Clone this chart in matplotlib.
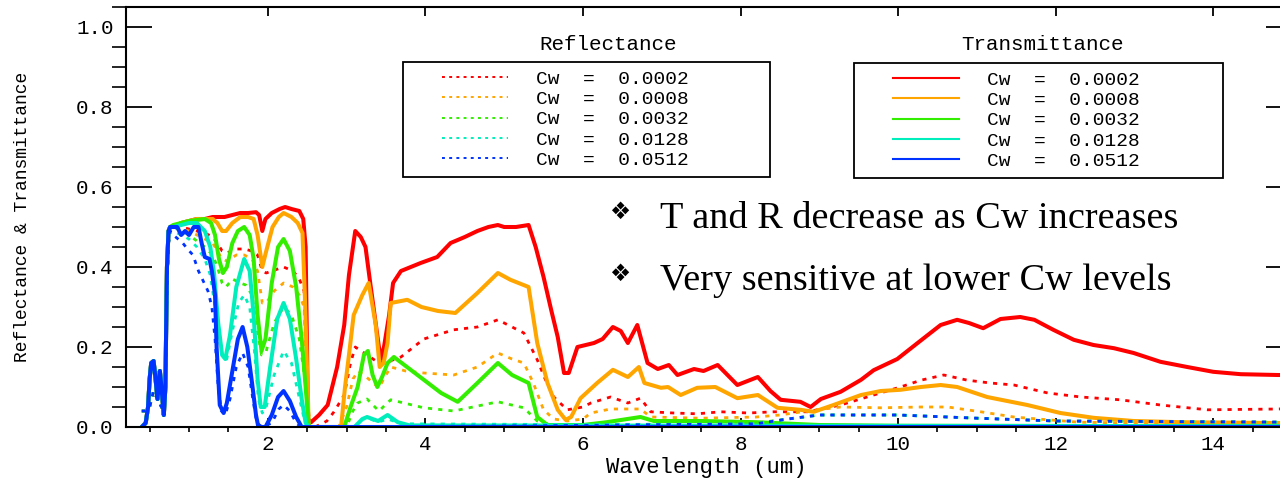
import numpy as np
import matplotlib
matplotlib.use("Agg")
import matplotlib.pyplot as plt
from matplotlib.lines import Line2D
from matplotlib.legend_handler import HandlerLine2D

plt.rcParams['font.family'] = ['Liberation Mono', 'DejaVu Sans']

cw_labels = ["Cw  =  0.0002", "Cw  =  0.0008", "Cw  =  0.0032", "Cw  =  0.0128", "Cw  =  0.0512"]
colors = ["#ff0000", "#ffa500", "#33ee00", "#00eebb", "#0033ff"]

# (wavelength um, value) pairs
# visible part is the same for every Cw
vis_t = [[0.40, 0.0], [0.45, 0.01], [0.48, 0.05], [0.50, 0.12], [0.52, 0.16], [0.55, 0.165],
         [0.57, 0.13], [0.60, 0.07], [0.63, 0.14], [0.65, 0.10], [0.68, 0.03], [0.70, 0.10],
         [0.72, 0.40], [0.74, 0.49], [0.76, 0.50]]
vis_r = [[0.40, 0.04], [0.45, 0.04], [0.50, 0.05], [0.55, 0.09], [0.60, 0.07], [0.65, 0.05],
         [0.68, 0.04], [0.70, 0.10], [0.72, 0.35], [0.74, 0.46], [0.76, 0.49]]

# transmittance
t_0002 = [[0.80, 0.50], [0.90, 0.51], [1.00, 0.515], [1.10, 0.52], [1.20, 0.52], [1.30, 0.525],
          [1.40, 0.525], [1.45, 0.525], [1.55, 0.53], [1.65, 0.535], [1.75, 0.535], [1.85, 0.537],
          [1.89, 0.53], [1.93, 0.49], [1.97, 0.52], [2.05, 0.535], [2.15, 0.545], [2.22, 0.55],
          [2.30, 0.545], [2.40, 0.54], [2.45, 0.52], [2.48, 0.45], [2.51, 0.02],
          [2.55, 0.012], [2.65, 0.03], [2.76, 0.055], [2.88, 0.15], [2.97, 0.255], [3.03, 0.38],
          [3.11, 0.49], [3.18, 0.475], [3.24, 0.45], [3.30, 0.36], [3.41, 0.20], [3.45, 0.17],
          [3.54, 0.28], [3.59, 0.36], [3.69, 0.39], [3.94, 0.41], [4.15, 0.425], [4.32, 0.46],
          [4.50, 0.475], [4.66, 0.49], [4.80, 0.50], [4.92, 0.505], [5.00, 0.50], [5.15, 0.50],
          [5.31, 0.505], [5.40, 0.45], [5.50, 0.375], [5.60, 0.29], [5.68, 0.225], [5.76, 0.135],
          [5.82, 0.135], [5.93, 0.20], [6.14, 0.21], [6.25, 0.22], [6.38, 0.25], [6.48, 0.24],
          [6.57, 0.21], [6.69, 0.255], [6.82, 0.16], [6.95, 0.145], [7.09, 0.155], [7.20, 0.13],
          [7.41, 0.145], [7.53, 0.14], [7.71, 0.155], [7.96, 0.105], [8.22, 0.125], [8.38, 0.09],
          [8.51, 0.068], [8.76, 0.063], [8.89, 0.05], [9.02, 0.07], [9.27, 0.088], [9.53, 0.118],
          [9.69, 0.142], [9.99, 0.17], [10.28, 0.215], [10.54, 0.255], [10.75, 0.268], [10.90, 0.26],
          [11.08, 0.247], [11.30, 0.27], [11.55, 0.275], [11.73, 0.268], [11.97, 0.243], [12.23, 0.218],
          [12.48, 0.205], [12.74, 0.197], [12.99, 0.185], [13.33, 0.163], [13.67, 0.15], [14.00, 0.138],
          [14.35, 0.132], [14.82, 0.13], [15.0, 0.13]]
t_0008 = [[0.80, 0.50], [0.90, 0.51], [1.00, 0.515], [1.10, 0.52], [1.20, 0.52], [1.30, 0.52],
          [1.36, 0.51], [1.42, 0.49], [1.47, 0.49], [1.55, 0.51], [1.65, 0.525], [1.75, 0.525],
          [1.82, 0.52], [1.87, 0.48], [1.93, 0.40], [1.98, 0.44], [2.06, 0.50], [2.14, 0.525],
          [2.20, 0.535], [2.30, 0.525], [2.38, 0.51], [2.44, 0.485], [2.47, 0.33], [2.52, 0.0],
          [2.93, 0.0], [2.98, 0.10], [3.03, 0.18], [3.09, 0.28], [3.20, 0.33], [3.28, 0.36],
          [3.37, 0.255], [3.42, 0.15], [3.47, 0.16], [3.52, 0.21], [3.56, 0.31], [3.77, 0.318],
          [3.95, 0.30], [4.16, 0.29], [4.38, 0.285], [4.66, 0.335], [4.92, 0.385], [5.08, 0.368],
          [5.31, 0.35], [5.42, 0.21], [5.55, 0.11], [5.68, 0.043], [5.78, 0.018], [5.85, 0.025],
          [5.97, 0.072], [6.18, 0.11], [6.38, 0.143], [6.57, 0.125], [6.71, 0.15], [6.78, 0.11],
          [6.99, 0.098], [7.08, 0.10], [7.24, 0.08], [7.45, 0.098], [7.68, 0.10], [7.96, 0.072],
          [8.22, 0.08], [8.47, 0.048], [8.76, 0.043], [8.93, 0.038], [9.18, 0.055], [9.53, 0.08],
          [9.78, 0.09], [10.03, 0.093], [10.29, 0.10], [10.54, 0.105], [10.75, 0.10], [11.13, 0.075],
          [11.64, 0.055], [12.06, 0.035], [12.48, 0.023], [12.99, 0.015], [13.60, 0.012],
          [14.82, 0.01], [15.0, 0.01]]
t_0032 = [[0.80, 0.505], [1.00, 0.515], [1.20, 0.52], [1.28, 0.51], [1.33, 0.48], [1.38, 0.42],
          [1.43, 0.385], [1.48, 0.40], [1.55, 0.46], [1.62, 0.49], [1.70, 0.50], [1.77, 0.48],
          [1.82, 0.42], [1.87, 0.28], [1.92, 0.19], [1.97, 0.22], [2.05, 0.36], [2.13, 0.45],
          [2.20, 0.47], [2.28, 0.44], [2.36, 0.35], [2.43, 0.22], [2.48, 0.10], [2.52, 0.0],
          [2.97, 0.0], [3.05, 0.05], [3.14, 0.10], [3.22, 0.18], [3.27, 0.19], [3.33, 0.13],
          [3.39, 0.10], [3.45, 0.125], [3.52, 0.16], [3.60, 0.175], [3.80, 0.145], [3.98, 0.118],
          [4.20, 0.085], [4.41, 0.063], [4.66, 0.11], [4.92, 0.16], [5.10, 0.13], [5.31, 0.11],
          [5.42, 0.025], [5.55, 0.005], [6.00, 0.005], [6.30, 0.012], [6.73, 0.025], [6.90, 0.015],
          [7.50, 0.015], [8.20, 0.012], [9.00, 0.005], [10.0, 0.003], [15.0, 0.002]]
t_0128 = [[0.80, 0.50], [1.00, 0.51], [1.10, 0.51], [1.20, 0.49], [1.27, 0.45], [1.32, 0.38],
          [1.37, 0.26], [1.42, 0.18], [1.46, 0.17], [1.52, 0.23], [1.60, 0.35], [1.70, 0.42],
          [1.77, 0.39], [1.82, 0.28], [1.87, 0.12], [1.91, 0.05], [1.96, 0.05], [2.03, 0.15],
          [2.12, 0.27], [2.20, 0.31], [2.28, 0.27], [2.36, 0.17], [2.43, 0.07], [2.48, 0.01],
          [2.52, 0.0], [3.10, 0.0], [3.20, 0.02], [3.26, 0.025], [3.40, 0.015], [3.52, 0.03],
          [3.65, 0.012], [3.80, 0.004], [15.0, 0.002]]
t_0512 = [[0.80, 0.50], [0.85, 0.50], [0.90, 0.48], [0.95, 0.49], [1.00, 0.48], [1.06, 0.50],
          [1.12, 0.50], [1.16, 0.46], [1.20, 0.425], [1.26, 0.42], [1.29, 0.39], [1.33, 0.33],
          [1.35, 0.20], [1.39, 0.055], [1.44, 0.035], [1.48, 0.06], [1.55, 0.14], [1.62, 0.22],
          [1.68, 0.25], [1.74, 0.20], [1.80, 0.11], [1.85, 0.03], [1.88, 0.0], [1.97, 0.0],
          [2.05, 0.03], [2.13, 0.075], [2.20, 0.09], [2.28, 0.065], [2.36, 0.025], [2.43, 0.0],
          [15.0, 0.0]]

# reflectance
r_0002 = [[0.80, 0.50], [0.90, 0.50], [1.00, 0.495], [1.10, 0.49], [1.20, 0.485], [1.30, 0.475],
          [1.36, 0.46], [1.42, 0.44], [1.48, 0.435], [1.60, 0.445], [1.70, 0.445], [1.80, 0.44],
          [1.87, 0.43], [1.93, 0.39], [1.98, 0.385], [2.05, 0.39], [2.20, 0.40], [2.32, 0.39],
          [2.40, 0.37], [2.46, 0.34], [2.50, 0.10], [2.53, 0.0], [2.60, 0.0], [2.75, 0.015],
          [2.84, 0.038], [2.97, 0.08], [3.05, 0.16], [3.11, 0.20], [3.26, 0.18], [3.41, 0.16],
          [3.55, 0.165], [3.69, 0.175], [3.98, 0.22], [4.36, 0.243], [4.66, 0.25], [4.92, 0.268],
          [5.10, 0.25], [5.25, 0.235], [5.42, 0.168], [5.52, 0.12], [5.63, 0.075], [5.80, 0.043],
          [6.00, 0.05], [6.10, 0.06], [6.35, 0.075], [6.57, 0.06], [6.73, 0.072], [6.86, 0.038],
          [7.15, 0.035], [7.45, 0.033], [7.75, 0.038], [8.10, 0.035], [8.42, 0.038], [8.85, 0.038],
          [9.27, 0.055], [9.69, 0.08], [10.03, 0.10], [10.29, 0.117], [10.58, 0.13], [10.88, 0.117],
          [11.17, 0.11], [11.47, 0.105], [11.90, 0.085], [12.32, 0.075], [12.82, 0.068],
          [13.33, 0.055], [13.93, 0.043], [14.82, 0.045], [15.0, 0.046]]
r_0008 = [[0.80, 0.50], [0.90, 0.495], [1.00, 0.49], [1.10, 0.48], [1.20, 0.47], [1.30, 0.46],
          [1.36, 0.44], [1.42, 0.42], [1.48, 0.415], [1.60, 0.43], [1.70, 0.43], [1.80, 0.42],
          [1.87, 0.39], [1.93, 0.31], [1.98, 0.31], [2.08, 0.34], [2.20, 0.36], [2.32, 0.35],
          [2.40, 0.33], [2.46, 0.30], [2.50, 0.08], [2.53, 0.0], [2.90, 0.0], [3.00, 0.05],
          [3.08, 0.12], [3.15, 0.14], [3.28, 0.12], [3.41, 0.098], [3.50, 0.13], [3.56, 0.15],
          [3.75, 0.14], [3.98, 0.135], [4.36, 0.13], [4.66, 0.15], [4.92, 0.185], [5.10, 0.17],
          [5.25, 0.16], [5.37, 0.11], [5.50, 0.043], [5.63, 0.02], [5.80, 0.015], [6.00, 0.02],
          [6.10, 0.035], [6.35, 0.045], [6.73, 0.045], [6.86, 0.025], [7.50, 0.022], [8.20, 0.025],
          [8.50, 0.03], [8.85, 0.04], [9.27, 0.05], [9.78, 0.048], [10.29, 0.05], [10.63, 0.05],
          [11.05, 0.038], [11.47, 0.025], [11.90, 0.018], [12.30, 0.012], [13.00, 0.01], [15.0, 0.01]]
r_0032 = [[0.80, 0.50], [0.90, 0.49], [1.00, 0.48], [1.10, 0.465], [1.20, 0.45], [1.30, 0.43],
          [1.36, 0.40], [1.42, 0.36], [1.47, 0.35], [1.55, 0.37], [1.65, 0.36], [1.72, 0.355],
          [1.80, 0.33], [1.86, 0.25], [1.92, 0.18], [1.98, 0.19], [2.08, 0.26], [2.20, 0.30],
          [2.30, 0.28], [2.40, 0.22], [2.47, 0.12], [2.52, 0.0], [3.00, 0.0], [3.08, 0.04],
          [3.14, 0.06], [3.26, 0.07], [3.41, 0.04], [3.56, 0.068], [3.98, 0.048], [4.36, 0.04],
          [4.92, 0.063], [5.25, 0.048], [5.42, 0.015], [5.60, 0.005], [6.50, 0.006], [7.50, 0.008],
          [8.20, 0.01], [8.60, 0.02], [9.00, 0.03], [10.00, 0.03], [11.00, 0.022], [12.00, 0.015],
          [15.0, 0.012]]
r_0128 = [[0.80, 0.49], [0.90, 0.48], [1.00, 0.47], [1.10, 0.45], [1.20, 0.42], [1.27, 0.38],
          [1.33, 0.30], [1.38, 0.22], [1.43, 0.17], [1.48, 0.17], [1.55, 0.24], [1.63, 0.31],
          [1.70, 0.33], [1.77, 0.30], [1.83, 0.19], [1.88, 0.07], [1.93, 0.035], [1.98, 0.05],
          [2.08, 0.13], [2.20, 0.19], [2.30, 0.16], [2.38, 0.09], [2.45, 0.03], [2.50, 0.0],
          [3.10, 0.0], [3.20, 0.02], [3.30, 0.02], [3.40, 0.012], [3.52, 0.02], [3.70, 0.008],
          [6.00, 0.006], [8.20, 0.008], [8.60, 0.02], [9.00, 0.03], [10.00, 0.03], [11.00, 0.022],
          [12.00, 0.015], [15.0, 0.012]]
r_0512 = [[0.80, 0.48], [0.86, 0.47], [0.92, 0.46], [0.98, 0.445], [1.05, 0.43], [1.12, 0.39],
          [1.18, 0.365], [1.24, 0.34], [1.29, 0.30], [1.33, 0.22], [1.37, 0.10], [1.41, 0.04],
          [1.46, 0.03], [1.52, 0.07], [1.60, 0.15], [1.68, 0.185], [1.75, 0.15], [1.81, 0.07],
          [1.86, 0.01], [1.93, 0.0], [2.05, 0.01], [2.14, 0.045], [2.20, 0.055], [2.28, 0.04],
          [2.36, 0.01], [2.42, 0.0], [2.60, 0.0], [6.00, 0.004], [8.20, 0.008], [8.60, 0.02],
          [9.00, 0.03], [10.00, 0.03], [11.00, 0.022], [12.00, 0.015], [15.0, 0.012]]

trans = [t_0002, t_0008, t_0032, t_0128, t_0512]
refl = [r_0002, r_0008, r_0032, r_0128, r_0512]

fig = plt.figure(figsize=(12.8, 4.79), dpi=100)
W, H = 1280.0, 479.0
ax = fig.add_axes([126 / W, 1 - 427 / H, (1292 - 126) / W, (427 - 7) / H])

r_lines = []
t_lines = []
for i in range(5):
    r = np.array(vis_r + refl[i])
    t = np.array(vis_t + trans[i])
    lr, = ax.plot(r[:, 0], r[:, 1], color=colors[i], lw=2.0, dashes=(1.5, 2.2))
    lt, = ax.plot(t[:, 0], t[:, 1], color=colors[i], lw=2.9)
    r_lines.append(lr)
    t_lines.append(lt)

ax.set_xlim(0.2, 15.0)
ax.set_ylim(0, 1.05)
ax.set_xticks(np.arange(2, 15, 2))
ax.set_xticks(np.arange(0.5, 15.0, 0.5), minor=True)
ax.set_yticks(np.arange(0, 1.01, 0.2))
ax.set_yticks(np.arange(0, 1.051, 0.05), minor=True)
ax.yaxis.set_major_formatter(plt.FormatStrFormatter('%.1f'))
ax.tick_params(direction='in', top=True, right=True, labelsize=15, width=1.3)
ax.tick_params(axis='y', which='major', length=19, pad=9)
ax.tick_params(axis='y', which='minor', length=10, width=1.2)
ax.tick_params(axis='x', which='major', length=6.5, pad=6)
ax.tick_params(axis='x', which='minor', length=3.6, width=1.2)
for s in ax.spines.values():
    s.set_linewidth(1.5)

ax.set_xlabel("Wavelength (um)", fontsize=16, va='center')
ax.xaxis.set_label_coords((706 - 126) / 1166, -40 / 420)
ax.set_ylabel("Reflectance & Transmittance", fontsize=13, va='center')
ax.yaxis.set_label_coords((23 - 126) / 1166, 0.5)

# legends
hmap = {Line2D: HandlerLine2D(xpad=1.6)}
leg_kw = dict(loc='upper left', mode='expand', borderaxespad=0, fontsize=14,
              handlelength=5.0, handletextpad=1.4, borderpad=0.42, labelspacing=0.14,
              fancybox=False, framealpha=1, edgecolor='black', handler_map=hmap)
leg1 = ax.legend(r_lines, cw_labels, bbox_to_anchor=(403 / W, 1 - 176 / H, 367 / W, 114 / H),
                 bbox_transform=fig.transFigure, **leg_kw)
leg1.get_frame().set_linewidth(1.3)
for l in leg1.get_lines():
    l.set_linewidth(1.4)
ax.add_artist(leg1)
leg2 = ax.legend(t_lines, cw_labels, bbox_to_anchor=(854 / W, 1 - 176 / H, 369 / W, 113 / H),
                 bbox_transform=fig.transFigure, **leg_kw)
leg2.get_frame().set_linewidth(1.3)
for l in leg2.get_lines():
    l.set_linewidth(1.5)

fig.text(608 / W, 1 - 45 / H, "Reflectance", ha='center', va='center', fontsize=15)
fig.text(1042 / W, 1 - 45 / H, "Transmittance", ha='center', va='center', fontsize=15)

# notes
notes = ["T and R decrease as Cw increases", "Very sensitive at lower Cw levels"]
for k, note in enumerate(notes):
    yb = 228 + 62 * k
    fig.text(620 / W, 1 - (yb - 16) / H, "\u2756", ha='center', va='center',
             fontsize=17, family='DejaVu Sans')
    fig.text(660 / W, 1 - yb / H, note, ha='left', va='baseline', fontsize=27.5,
             family=['Liberation Serif', 'DejaVu Serif'])

fig.savefig("out.png", dpi=100)
